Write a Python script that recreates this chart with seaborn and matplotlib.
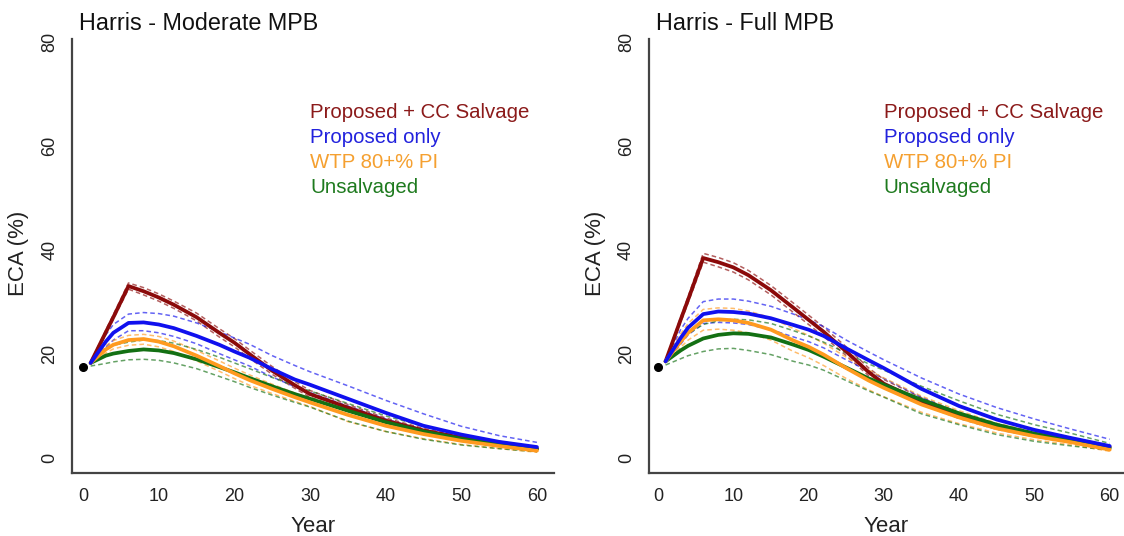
import numpy as np
import pandas as pd
import matplotlib
matplotlib.use("Agg")
import matplotlib.pyplot as plt
import seaborn as sns

years = [1, 3, 4, 6, 8, 10, 12, 15, 18, 20, 22, 25, 28, 30, 35, 40, 45, 50, 55, 60]
series_names = ["Proposed + CC Salvage", "Proposed only", "WTP 80+% PI", "Unsalvaged"]
panel_titles = ["Harris - Moderate MPB", "Harris - Full MPB"]
start_value = [17.5, 17.4]   # black dot at year 0

# --- Moderate MPB ---
mod_red = [18.2, 24.1, 27.0, 33.0, 32.0, 30.8, 29.4, 27.0, 24.0, 22.1, 19.9, 16.7, 13.9, 12.2, 9.6, 7.1, 5.2, 3.8, 2.6, 1.7]
mod_red_hi = [18.4, 24.5, 27.5, 33.6, 32.7, 31.5, 30.1, 27.8, 24.8, 22.9, 20.7, 17.5, 14.6, 12.9, 10.2, 7.6, 5.6, 4.1, 2.8, 1.9]
mod_red_lo = [18.0, 23.7, 26.6, 32.4, 31.3, 30.1, 28.7, 26.3, 23.2, 21.3, 19.1, 16.0, 13.3, 11.6, 9.0, 6.7, 4.9, 3.5, 2.4, 1.5]
mod_blue = [18.2, 22.3, 24.0, 25.9, 26.0, 25.6, 24.9, 23.4, 21.7, 20.4, 19.2, 17.0, 15.0, 14.0, 11.3, 8.6, 6.1, 4.4, 3.0, 2.0]
mod_blue_hi = [18.4, 23.6, 25.6, 27.6, 27.9, 27.7, 27.2, 25.9, 24.2, 23.0, 21.8, 19.6, 17.7, 16.5, 13.8, 11.0, 8.4, 6.0, 4.2, 2.9]
mod_blue_lo = [18.0, 21.2, 22.6, 24.4, 24.4, 24.0, 23.3, 21.9, 20.0, 18.8, 17.6, 15.5, 13.6, 12.5, 9.9, 7.4, 5.3, 3.7, 2.5, 1.5]
mod_orange = [18.2, 20.8, 21.7, 22.6, 22.8, 22.3, 21.4, 19.6, 17.6, 16.2, 14.9, 13.2, 11.6, 10.6, 8.2, 6.1, 4.5, 3.2, 2.2, 1.3]
mod_orange_hi = [18.3, 21.5, 22.5, 23.5, 23.7, 23.3, 22.4, 20.6, 18.6, 17.2, 15.9, 14.1, 12.4, 11.4, 8.9, 6.7, 5.0, 3.6, 2.5, 1.5]
mod_orange_lo = [18.1, 20.1, 20.9, 21.6, 21.8, 21.3, 20.4, 18.6, 16.6, 15.2, 13.9, 12.3, 10.8, 9.8, 6.9, 5.0, 3.6, 2.5, 1.7, 1.0]
mod_green = [18.2, 19.6, 20.0, 20.5, 20.8, 20.6, 20.1, 18.9, 17.4, 16.4, 15.3, 13.7, 12.2, 11.3, 9.0, 6.8, 5.0, 3.6, 2.5, 1.6]
mod_green_hi = [18.6, 21.0, 21.6, 22.2, 22.6, 22.5, 22.0, 20.8, 19.3, 18.2, 17.1, 15.4, 13.8, 12.8, 10.4, 8.0, 6.0, 4.4, 3.1, 2.0]
mod_green_lo = [17.6, 18.1, 18.4, 18.8, 18.9, 18.7, 18.2, 17.1, 15.6, 14.6, 13.5, 12.0, 10.6, 9.7, 7.0, 5.0, 3.5, 2.4, 1.7, 1.1]

# --- Full MPB ---
full_red = [18.5, 26.5, 30.4, 38.4, 37.6, 36.6, 35.1, 32.2, 28.8, 26.5, 24.2, 20.4, 16.4, 14.2, 10.8, 8.0, 5.9, 4.4, 3.1, 2.0]
full_red_hi = [18.7, 27.0, 31.0, 39.3, 38.5, 37.5, 36.0, 33.1, 29.7, 27.4, 25.1, 21.3, 17.2, 15.0, 11.5, 8.6, 6.4, 4.8, 3.4, 2.2]
full_red_lo = [18.3, 26.0, 29.8, 37.6, 36.7, 35.7, 34.2, 31.3, 27.9, 25.6, 23.3, 19.6, 15.7, 13.5, 10.2, 7.5, 5.4, 4.0, 2.8, 1.8]
full_blue = [18.5, 23.0, 25.0, 27.6, 28.1, 28.0, 27.7, 26.8, 25.5, 24.6, 23.4, 21.0, 18.7, 17.2, 13.2, 9.9, 7.3, 5.3, 3.7, 2.2]
full_blue_hi = [18.6, 24.6, 26.8, 30.0, 30.5, 30.5, 30.1, 29.1, 27.6, 26.5, 25.2, 22.6, 20.3, 18.8, 15.3, 12.2, 9.6, 7.4, 5.4, 3.5]
full_blue_lo = [18.4, 21.8, 23.6, 25.8, 26.0, 25.9, 25.6, 24.6, 23.2, 22.3, 21.1, 18.8, 16.6, 15.2, 11.6, 8.6, 6.2, 4.4, 3.0, 1.8]
full_orange = [18.5, 22.3, 24.0, 26.4, 26.6, 26.4, 25.9, 24.6, 22.5, 21.3, 19.8, 17.2, 14.8, 13.4, 10.2, 7.7, 5.6, 4.1, 2.9, 1.5]
full_orange_hi = [18.6, 23.8, 25.8, 28.5, 28.8, 28.7, 28.2, 26.9, 24.8, 23.5, 22.0, 19.3, 16.8, 15.3, 11.8, 9.0, 6.6, 4.9, 3.5, 2.0]
full_orange_lo = [18.4, 21.2, 22.6, 24.5, 24.7, 24.5, 24.0, 22.6, 20.4, 19.2, 17.7, 15.2, 13.0, 11.7, 8.7, 6.5, 4.7, 3.4, 2.4, 1.2]
full_green = [18.5, 20.6, 21.5, 22.9, 23.6, 23.9, 23.8, 23.1, 21.7, 20.7, 19.4, 17.3, 15.2, 14.0, 11.1, 8.5, 6.3, 4.6, 3.3, 1.8]
full_green_hi = [18.7, 22.6, 23.8, 25.6, 26.3, 26.6, 26.5, 25.8, 24.4, 23.4, 22.2, 20.1, 18.0, 16.8, 13.7, 10.9, 8.3, 6.3, 4.6, 2.7]
full_green_lo = [17.8, 19.0, 19.6, 20.4, 20.9, 21.0, 20.6, 19.8, 18.5, 17.8, 16.8, 14.8, 12.8, 11.6, 8.4, 6.3, 4.4, 3.1, 2.2, 1.4]

line_colors = ["#8B0A0A", "#1010EE", "#FF9A1F", "#137013"]
text_colors = ["#8B1A1A", "#2222DD", "#F5A030", "#1E7A1E"]

panels = [
    [(mod_red, mod_red_hi, mod_red_lo), (mod_blue, mod_blue_hi, mod_blue_lo),
     (mod_orange, mod_orange_hi, mod_orange_lo), (mod_green, mod_green_hi, mod_green_lo)],
    [(full_red, full_red_hi, full_red_lo), (full_blue, full_blue_hi, full_blue_lo),
     (full_orange, full_orange_hi, full_orange_lo), (full_green, full_green_hi, full_green_lo)],
]

sns.set_style("white")
plt.rcParams["font.family"] = ["Liberation Sans", "DejaVu Sans"]

fig = plt.figure(figsize=(11.24, 5.36), dpi=100)
axes_pos = [[0.0645, 0.1175, 0.428, 0.81], [0.5774, 0.1175, 0.4226, 0.81]]
xlims = [(-1.4, 62.2), (-1.2, 61.9)]
title_x = [79 / 1124, 656 / 1124]
axis_col = "#444444"

for p in range(2):
    ax = fig.add_axes(axes_pos[p])

    # dashed interval lines first
    for (main, hi, lo), col in zip(panels[p], line_colors):
        for band in (hi, lo):
            sns.lineplot(x=years, y=band, ax=ax, color=col, lw=1.1, alpha=0.65,
                         linestyle=(0, (3, 2)))

    # main curves, drawn in the order they overlap in the figure
    for i in [0, 3, 2, 1]:
        sns.lineplot(x=years, y=panels[p][i][0], ax=ax, color=line_colors[i], lw=2.7)

    ax.plot([0], [start_value[p]], "o", color="black", markersize=5.5)

    ax.set_xlim(*xlims[p])
    ax.set_ylim(-3.0, 80.6)
    ax.set_xticks([0, 10, 20, 30, 40, 50, 60])
    ax.set_yticks([0, 20, 40, 60, 80])
    ax.tick_params(axis="both", direction="out", length=4, width=1.2, color=axis_col,
                   labelsize=13, labelcolor="#222222")
    ax.tick_params(axis="x", pad=7)
    ax.tick_params(axis="y", pad=6)
    for lab in ax.get_yticklabels():
        lab.set_rotation(90)
        lab.set_va("center")

    for s in ["top", "right"]:
        ax.spines[s].set_visible(False)
    for s in ["left", "bottom"]:
        ax.spines[s].set_color(axis_col)
        ax.spines[s].set_linewidth(1.6)

    ax.set_xlabel("Year", fontsize=16, color="#222222")
    ax.set_ylabel("ECA (%)", fontsize=16, color="#222222")
    ax.xaxis.set_label_coords(0.5, -0.124)
    ax.xaxis.label.set_va("center")
    ax.yaxis.set_label_coords(-0.112, 0.505)
    ax.yaxis.label.set_va("center")

    for k, (name, col) in enumerate(zip(series_names, text_colors)):
        ax.text(30.0, 66.4 - 4.8 * k, name, color=col, fontsize=14.7,
                ha="left", va="center")

    fig.text(title_x[p], 1 - 23 / 536, panel_titles[p], fontsize=16.8,
             ha="left", va="center", color="#111111")

fig.savefig("out.png", dpi=100)
